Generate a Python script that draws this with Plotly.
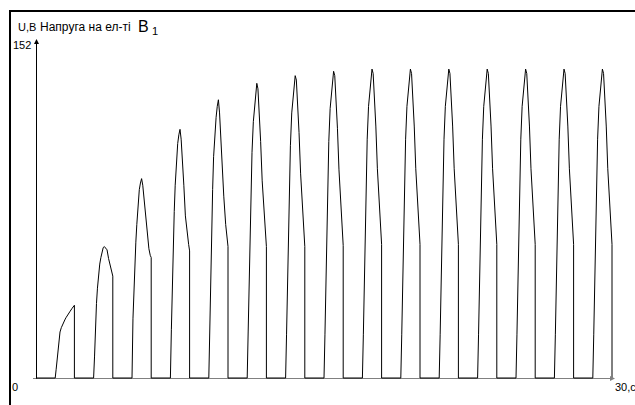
import plotly.graph_objects as go

# ---- data ----
X_MAX = 30
Y_MAX = 152
X_TICK_LABEL = "30,с"
Y_TICK_LABEL = "152"
Y_ZERO_LABEL = "0"

PULSE_START = [1, 3, 5, 7, 9, 11, 13, 15, 17, 19, 21, 23, 25, 27, 29]
PULSE_END = [2, 4, 6, 8, 10, 12, 14, 16, 18, 20, 22, 24, 26, 28, 30]
# fraction of the on-interval at which each sample is taken
PULSE_TAU = [0, 0.05, 0.10, 0.15, 0.20, 0.25, 0.32, 0.38, 0.44, 0.50,
             0.56, 0.62, 0.70, 0.78, 0.88, 0.95, 1.0]
PULSE_1 = [0, 4, 8, 13, 17, 21, 23, 24.5, 25.5, 26.5, 27.5, 28.5, 29.5, 30.5, 31.8, 32.6, 33.2]
PULSE_2 = [0, 10, 24, 34, 41, 47, 52, 55, 58, 59.5, 60, 59.5, 58.5, 54.5, 51, 48.5, 46.5]
PULSE_3 = [0, 27, 41, 54, 62, 70, 80, 86, 89, 91, 88, 82, 75, 67, 59, 56, 55]
PULSE_4 = [0, 22, 45, 60, 76, 88, 99, 107, 111, 113.5, 109, 101, 88, 74, 65, 61, 58]
PULSE_5 = [0, 26, 48, 74, 86, 101, 113, 119, 124, 127, 121, 109, 97, 83, 70, 63, 60]
PULSE_6 = [0, 21, 43, 65, 85, 103, 117, 124, 128, 134.5, 132, 123, 108, 90, 75, 64, 60]
PULSE_7 = [0, 20, 42, 66, 87, 106, 121, 127.5, 131, 138, 136, 127.5, 112, 93.5, 77, 65.5, 60]
PULSE_8 = [0, 20, 42, 66, 88, 108, 123, 129.5, 133, 140, 138, 129.5, 114, 95, 78.5, 66.5, 60.5]
PULSE_9 = [0, 20, 42, 67, 89, 109, 124, 130.5, 134, 141, 139, 130.5, 115, 95.5, 79, 67, 61]
PULSE_10 = [0, 20, 42, 67, 89, 109, 124, 130.5, 134, 141, 139, 130.5, 115, 95.5, 79, 67, 61]
PULSE_11 = [0, 20, 42, 67, 89, 109, 124, 130.5, 134, 141, 139, 130.5, 115, 95.5, 79, 67, 61]
PULSE_12 = [0, 20, 42, 67, 89, 109, 124, 130.5, 134, 141, 139, 130.5, 115, 95.5, 79, 67, 61]
PULSE_13 = [0, 20, 42, 67, 89, 109, 124, 130.5, 134, 141, 139, 130.5, 115, 95.5, 79, 67, 61]
PULSE_14 = [0, 20, 42, 67, 89, 109, 124, 130.5, 134, 141, 139, 130.5, 115, 95.5, 79, 67, 61]
PULSE_15 = [0, 20, 42, 67, 89, 109, 124, 130.5, 134, 141, 139, 130.5, 115, 95.5, 79, 67, 61]
PULSES = [PULSE_1, PULSE_2, PULSE_3, PULSE_4, PULSE_5, PULSE_6, PULSE_7, PULSE_8,
          PULSE_9, PULSE_10, PULSE_11, PULSE_12, PULSE_13, PULSE_14, PULSE_15]

# ---- build the waveform from the samples ----
xs, ys = [0], [0]
for start, end, vals in zip(PULSE_START, PULSE_END, PULSES):
    xs.append(start); ys.append(0)
    for tau, v in zip(PULSE_TAU, vals):
        xs.append(start + tau * (end - start)); ys.append(v)
    xs.append(end); ys.append(0)
if xs[-1] < X_MAX:
    xs.append(X_MAX); ys.append(0)

# ---- page geometry (pixels) ----
W, H = 635, 405
X0_PX, X1_PX = 36, 612      # pixel columns of x = 0 and x = X_MAX
Y0_PX, Y1_PX = 378, 45      # pixel rows of y = 0 and y = Y_MAX
SX = (X1_PX - X0_PX) / X_MAX
SY = (Y0_PX - Y1_PX) / Y_MAX


def dx(p):
    return (p - X0_PX) / SX


def dy(p):
    return (Y0_PX - p) / SY


fig = go.Figure()
# window frame (left and top edges) as a plain polyline
fig.add_trace(go.Scatter(x=[dx(10), dx(10), dx(W + 5)],
                         y=[dy(H + 5), dy(11), dy(11)], mode="lines",
                         line=dict(color="#000000", width=2),
                         hoverinfo="skip", showlegend=False, cliponaxis=False))
# axes
fig.add_trace(go.Scatter(x=[dx(33), dx(612)], y=[dy(378.5), dy(378.5)], mode="lines",
                         line=dict(color="#808080", width=1),
                         hoverinfo="skip", showlegend=False))
fig.add_trace(go.Scatter(x=[dx(36.5), dx(36.5)], y=[dy(378.5), dy(44)], mode="lines",
                         line=dict(color="#000000", width=1),
                         hoverinfo="skip", showlegend=False))
# waveform
fig.add_trace(go.Scatter(x=xs, y=ys, mode="lines",
                         line=dict(color="#000000", width=1),
                         hoverinfo="skip", showlegend=False))

FONT = "Liberation Sans, Arial, sans-serif"
ann = []


def arrow(x_tip, y_tip, x_tail, y_tail, color):
    ann.append(dict(x=dx(x_tip), y=dy(y_tip), ax=dx(x_tail), ay=dy(y_tail),
                    xref="x", yref="y", axref="x", ayref="y", text="",
                    showarrow=True, arrowhead=2, arrowsize=1, arrowwidth=1,
                    arrowcolor=color, standoff=0))


arrow(615, 378.5, 600, 378.5, "#808080")
arrow(36.5, 39, 36.5, 55, "#000000")


def text(x, y, s, size, xanchor="left"):
    ann.append(dict(x=dx(x), y=dy(y), xref="x", yref="y", text=s, showarrow=False,
                    xanchor=xanchor, yanchor="middle",
                    font=dict(family=FONT, size=size, color="#000")))


text(33, 45, Y_TICK_LABEL, 11, "right")
text(15, 387, Y_ZERO_LABEL, 11, "center")
text(613, 387, X_TICK_LABEL, 11)
text(16, 26.5, "U,В", 11)
text(38, 26.5, "Напруга на ел-ті", 12)
text(136, 26.5, "В", 16)
text(150, 30.5, "1", 11)

fig.update_layout(
    width=W, height=H, autosize=False,
    margin=dict(l=0, r=0, t=0, b=0, pad=0),
    paper_bgcolor="#ffffff", plot_bgcolor="#ffffff",
    xaxis=dict(range=[dx(0), dx(W)], visible=False, fixedrange=True),
    yaxis=dict(range=[dy(H), dy(0)], visible=False, fixedrange=True),
    annotations=ann, showlegend=False,
)
fig.write_html("out.html", config={"displayModeBar": False},
               post_script="document.body.style.margin='0';document.body.style.overflow='hidden';")
